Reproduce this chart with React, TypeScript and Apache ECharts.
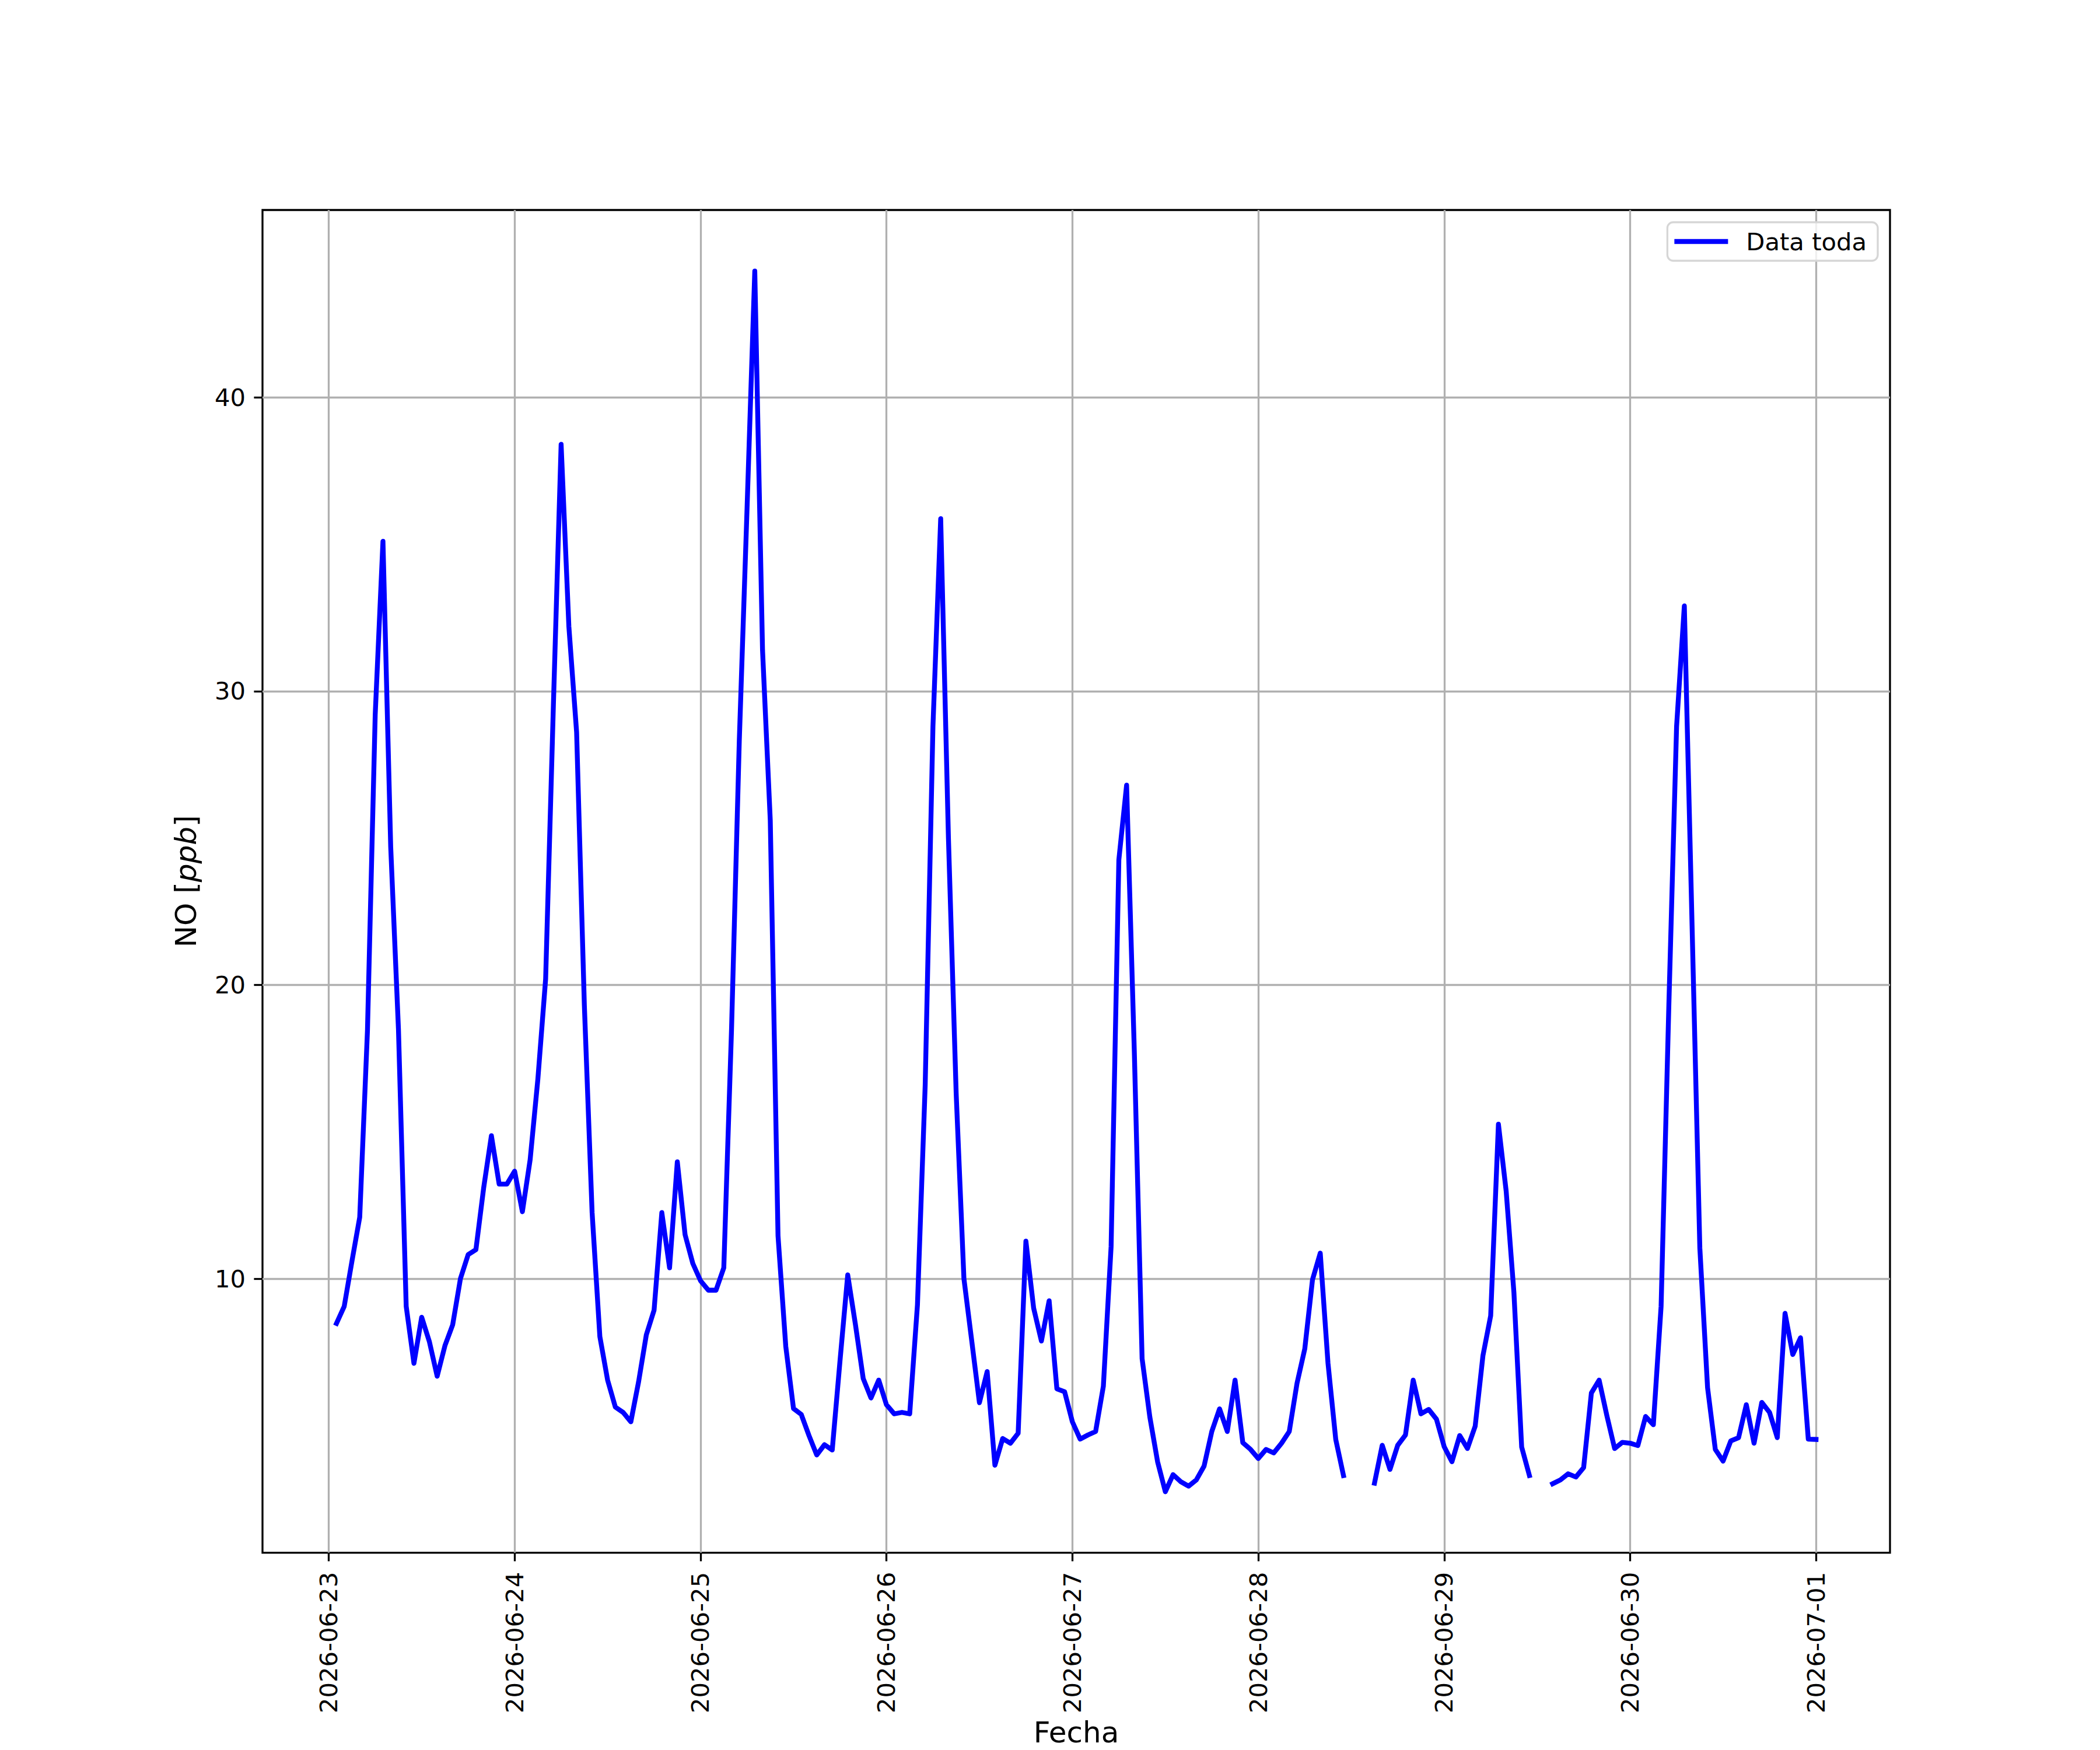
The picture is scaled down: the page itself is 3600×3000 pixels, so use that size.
import React, { useEffect, useRef } from "react";
import * as echarts from "echarts";

// Hourly NO readings, first reading 2026-06-23 01:00, last 2026-07-01 00:00
const firstReading = [2026, 5, 23, 1];
const values: (number | null)[] = [
  // 06-23 01h .. 06-24 00h
  8.48, 9.06, 10.6, 12.09, 18.45, 29.2, 35.1, 24.7, 18.5, 9.06, 7.12, 8.69,
  7.85, 6.68, 7.72, 8.43, 10.0, 10.82, 10.99, 13.09, 14.87, 13.22, 13.22, 13.66,
  // 06-24
  12.28, 14.05, 16.8, 20.2, 29.5, 38.4, 32.2, 28.6, 19.3, 12.25, 8.03, 6.55,
  5.63, 5.45, 5.13, 6.49, 8.09, 8.93, 12.25, 10.37, 13.98, 11.5, 10.52, 9.93,
  // 06-25
  9.61, 9.61, 10.37, 18.5, 28.3, 36.2, 44.3, 31.4, 25.6, 11.46, 7.7, 5.58,
  5.38, 4.66, 4.0, 4.35, 4.17, 7.2, 10.13, 8.43, 6.6, 5.94, 6.55, 5.71,
  // 06-26
  5.4, 5.45, 5.4, 9.11, 16.6, 28.8, 35.87, 25.0, 16.3, 10.0, 7.9, 5.78,
  6.84, 3.65, 4.56, 4.4, 4.74, 11.28, 9.0, 7.88, 9.25, 6.25, 6.15, 5.13,
  // 06-27
  4.54, 4.68, 4.8, 6.34, 11.1, 24.26, 26.8, 17.7, 7.28, 5.29, 3.77, 2.75,
  3.33, 3.09, 2.94, 3.15, 3.62, 4.8, 5.57, 4.8, 6.55, 4.42, 4.19, 3.88,
  // 06-28
  4.19, 4.07, 4.4, 4.8, 6.44, 7.61, 9.97, 10.87, 7.12, 4.53, 3.3, null,
  null, null, 3.04, 4.33, 3.51, 4.33, 4.68, 6.55, 5.4, 5.55, 5.22, 4.28,
  // 06-29
  3.77, 4.66, 4.22, 4.98, 7.38, 8.74, 15.26, 12.98, 9.53, 4.27, 3.3, null,
  null, 3.02, 3.15, 3.36, 3.25, 3.57, 6.11, 6.55, 5.34, 4.22, 4.43, 4.4,
  // 06-30
  4.32, 5.31, 5.03, 9.06, 19.3, 28.8, 32.9, 22.0, 11.05, 6.29, 4.19, 3.79,
  4.48, 4.59, 5.71, 4.4, 5.79, 5.45, 4.59, 8.82, 7.42, 7.99, 4.54, 4.53,
];
const xTickLabels = [
  "2026-06-23", "2026-06-24", "2026-06-25", "2026-06-26", "2026-06-27",
  "2026-06-28", "2026-06-29", "2026-06-30", "2026-07-01",
];
const yTickValues = [10, 20, 30, 40];
const seriesName = "Data toda";

const HOUR = 3600 * 1000;
const FONT = "DejaVu Sans";

function dayStamp(s: string): number {
  const [y, m, d] = s.split("-").map(Number);
  return new Date(y, m - 1, d, 0, 0, 0).getTime();
}

export default function App() {
  const ref = useRef<HTMLDivElement>(null);
  useEffect(() => {
    document.body.style.margin = "0";
    if (!ref.current) return;
    const chart = echarts.init(ref.current, undefined, { renderer: "svg" });

    const t0 = new Date(firstReading[0], firstReading[1], firstReading[2], firstReading[3]).getTime();
    const data = values.map((v, i) => [t0 + i * HOUR, v]);
    const tFirst = t0;
    const tLast = t0 + (values.length - 1) * HOUR;
    const xPad = (tLast - tFirst) * 0.05;
    const nums = values.filter((v): v is number => v !== null);
    const vMin = Math.min(...nums);
    const vMax = Math.max(...nums);
    const yPad = (vMax - vMin) * 0.05;
    const dayTicks = xTickLabels.map(dayStamp);

    chart.setOption({
      animation: false,
      backgroundColor: "#ffffff",
      grid: {
        left: 450,
        right: 360,
        top: 360,
        bottom: 330,
        show: true,
        borderColor: "#000000",
        borderWidth: 3.3,
        backgroundColor: "transparent",
      },
      legend: {
        show: true,
        right: 381,
        top: 381,
        orient: "vertical",
        data: [{ name: seriesName, icon: "rect" }],
        itemWidth: 92,
        itemHeight: 8.3,
        padding: [12, 19, 12, 12],
        borderColor: "#d6d6d6",
        borderWidth: 3.3,
        borderRadius: 10,
        backgroundColor: "rgba(255,255,255,0.8)",
        textStyle: {
          fontFamily: FONT,
          fontSize: 41.7,
          color: "#000000",
          padding: [0, 0, 0, 26],
        },
      },
      xAxis: {
        type: "value",
        min: tFirst - xPad,
        max: tLast + xPad,
        name: "Fecha",
        nameLocation: "middle",
        nameGap: 277,
        nameTextStyle: { fontFamily: FONT, fontSize: 50, color: "#000000" },
        axisLine: { show: false },
        axisTick: {
          show: true,
          inside: false,
          length: 14.6,
          lineStyle: { color: "#000000", width: 3.3 },
          customValues: dayTicks,
        },
        axisLabel: {
          show: true,
          rotate: 90,
          margin: 33,
          fontFamily: FONT,
          fontSize: 41.7,
          color: "#000000",
          customValues: dayTicks,
          formatter: (v: number) => {
            const i = dayTicks.indexOf(v);
            return i >= 0 ? xTickLabels[i] : "";
          },
        },
        splitLine: { show: true, lineStyle: { color: "#b0b0b0", width: 3.3 } },
      },
      yAxis: {
        type: "value",
        min: vMin - yPad,
        max: vMax + yPad,
        name: "NO [{i|ppb}]",
        nameLocation: "middle",
        nameRotate: 90,
        nameGap: 106,
        nameTextStyle: {
          fontFamily: FONT,
          fontSize: 50,
          color: "#000000",
          rich: {
            i: { fontFamily: FONT, fontSize: 50, fontStyle: "italic", color: "#000000" },
          },
        },
        axisLine: { show: false },
        axisTick: {
          show: true,
          inside: false,
          length: 14.6,
          lineStyle: { color: "#000000", width: 3.3 },
          customValues: yTickValues,
        },
        axisLabel: {
          show: true,
          margin: 29,
          fontFamily: FONT,
          fontSize: 41.7,
          color: "#000000",
          customValues: yTickValues,
        },
        splitLine: { show: true, lineStyle: { color: "#b0b0b0", width: 3.3 } },
      },
      series: [
        {
          name: seriesName,
          type: "line",
          data,
          showSymbol: false,
          symbol: "none",
          connectNulls: false,
          color: "#0000ff",
          lineStyle: { color: "#0000ff", width: 8.33, cap: "square", join: "round" },
          emphasis: { disabled: true },
        },
      ],
    });
    return () => chart.dispose();
  }, []);
  return <div ref={ref} style={{ width: 3600, height: 3000 }} />;
}
